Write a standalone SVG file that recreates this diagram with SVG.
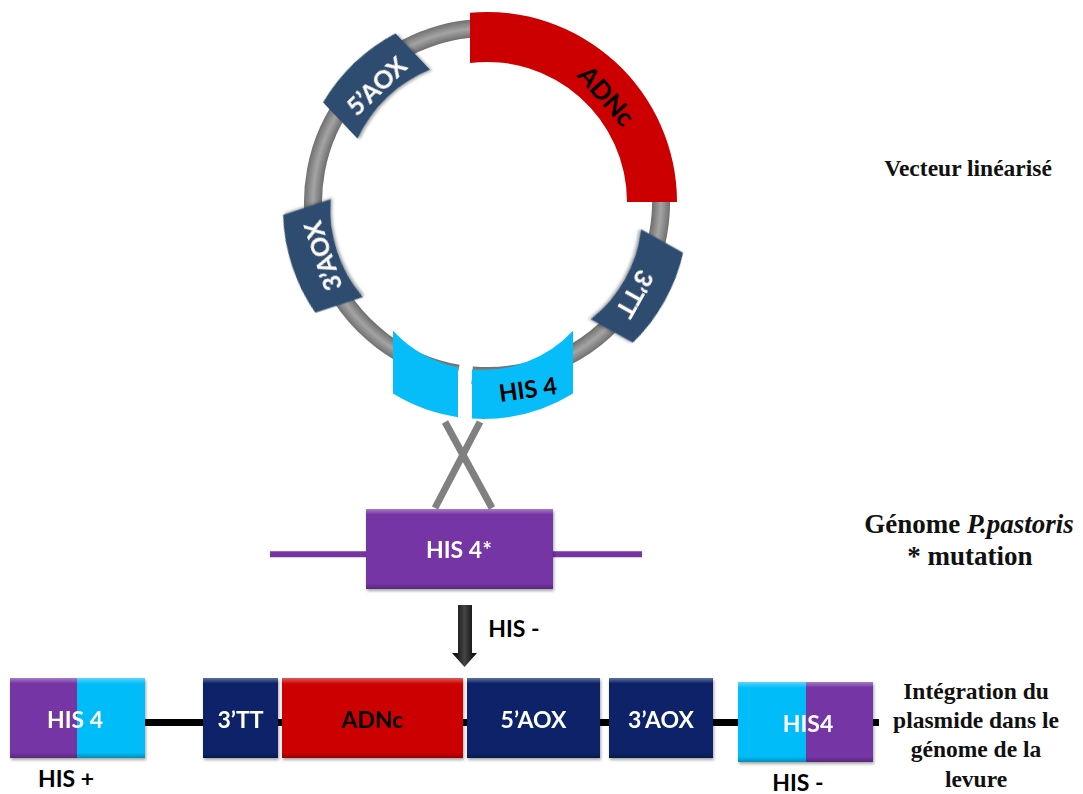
<svg xmlns="http://www.w3.org/2000/svg" width="1083" height="794" viewBox="0 0 1083 794">
<style>
.lbl{font-family:Lato,"Liberation Sans",Arial,sans-serif;font-weight:bold;text-anchor:middle}
.w{fill:#ffffff}
.k{fill:#000000}
.ser{font-family:"Liberation Serif","Times New Roman",serif;font-weight:bold;text-anchor:middle;fill:#111}
.blk{fill:#2E4B6F}
.nav{fill:#082367}
.red{fill:#CC0000}
.cy{fill:#06BDF9}
.pu{fill:#7535A5}
</style>
<defs>
<radialGradient id="tube" gradientUnits="userSpaceOnUse" cx="487" cy="202" r="184">
<stop offset="0.89" stop-color="#666"/>
<stop offset="0.945" stop-color="#a4a4a4"/>
<stop offset="1" stop-color="#6a6a6a"/>
</radialGradient>
<linearGradient id="bevel" x1="0" y1="0" x2="0" y2="1">
<stop offset="0" stop-color="#fff" stop-opacity="0.35"/>
<stop offset="0.07" stop-color="#fff" stop-opacity="0"/>
<stop offset="0.93" stop-color="#000" stop-opacity="0"/>
<stop offset="1" stop-color="#000" stop-opacity="0.25"/>
</linearGradient>
<linearGradient id="arrowg" x1="0" y1="0" x2="1" y2="0">
<stop offset="0" stop-color="#000"/>
<stop offset="0.5" stop-color="#444"/>
<stop offset="1" stop-color="#000"/>
</linearGradient>
<filter id="sh" x="-10%" y="-10%" width="125%" height="130%">
<feDropShadow dx="1" dy="2" stdDeviation="1.5" flood-color="#000" flood-opacity="0.35"/>
</filter>
</defs>

<g id="connectors">
<path d="M458 373.6 A174 174 0 1 1 472.1 375.4" fill="none" stroke="url(#tube)" stroke-width="18"/>
<line x1="445" y1="422" x2="492" y2="508" stroke="#808080" stroke-width="7"/>
<line x1="480" y1="422" x2="435" y2="508" stroke="#808080" stroke-width="7"/>
<line x1="270" y1="554.3" x2="642" y2="554.3" stroke="#7535A5" stroke-width="6"/>
<line x1="145" y1="722.5" x2="879" y2="722.5" stroke="#000" stroke-width="7"/>
<path d="M458 605 L472 605 L472 653 L477 653 L464.5 667 L452 653 L458 653 Z" fill="url(#arrowg)"/>
</g>

<g id="adnc-circle">
<path class="red" d="M470 12.8 A190 190 0 0 1 677 202 L627 202 A140 140 0 0 0 470 63 Z"/>
<text class="lbl k" font-size="26" transform="translate(606,96) rotate(48.3)" y="9">ADNc</text>
</g>

<g id="aox5-circle" transform="translate(376.5,86) rotate(-43.6)" filter="url(#sh)">
<path class="blk" d="M-50 -25 A185 185 0 0 1 50 -25 L50 25 A135 135 0 0 0 -50 25 Z"/>
<text class="lbl w" font-size="25" y="9">5’AOX</text>
</g>

<g id="aox3-circle" transform="translate(323,256) rotate(-108.2)" filter="url(#sh)">
<path class="blk" d="M-51.5 -25 A185 185 0 0 1 51.5 -25 L51.5 25 A135 135 0 0 0 -51.5 25 Z"/>
<text class="lbl w" font-size="25" y="9">3’AOX</text>
</g>

<g id="tt3-circle" transform="translate(637,286) rotate(119.2)" filter="url(#sh)">
<path class="blk" d="M-51.5 -24 A185 185 0 0 1 51.5 -24 L51.5 24 A135 135 0 0 0 -51.5 24 Z"/>
<text class="lbl w" font-size="25" x="8" y="7">3’TT</text>
</g>

<g id="his4-circle">
<path class="cy" d="M393 330.8 A123 123 0 0 0 458 367.4 L458 417.2 A172 172 0 0 1 393 393.6 Z"/>
<path class="cy" d="M472 369.5 A123 123 0 0 0 573 330.8 L573 393.6 A172 172 0 0 1 472 418.6 Z"/>
<text class="lbl k" font-size="24" transform="translate(528,390) rotate(-8)" y="8">HIS 4</text>
</g>

<g id="his4-mut" filter="url(#sh)">
<rect class="pu" x="366" y="509" width="187" height="80"/>
<rect x="366" y="509" width="187" height="80" fill="url(#bevel)"/>
<text class="lbl w" font-size="23" x="459" y="558">HIS 4*</text>
</g>

<g id="his-minus-arrow-label">
<text class="lbl k" font-size="23" x="514" y="637">HIS -</text>
</g>

<g id="his4-left" filter="url(#sh)">
<rect class="pu" x="10" y="678" width="67" height="80"/>
<rect class="cy" x="77" y="678" width="68" height="80"/>
<rect x="10" y="678" width="135" height="80" fill="url(#bevel)"/>
<text class="lbl w" font-size="23" x="75" y="728">HIS 4</text>
</g>
<text id="his-plus" class="lbl k" font-size="23" x="66" y="787">HIS +</text>

<g id="tt3" filter="url(#sh)">
<rect class="nav" x="203" y="678" width="75" height="80"/>
<rect x="203" y="678" width="75" height="80" fill="url(#bevel)"/>
<text class="lbl w" font-size="23" x="240.5" y="728">3’TT</text>
</g>

<g id="adnc" filter="url(#sh)">
<rect x="282" y="678" width="181" height="80" fill="#CC0505"/>
<rect x="282" y="678" width="181" height="80" fill="url(#bevel)"/>
<text class="lbl k" font-size="23" x="372.5" y="728">ADNc</text>
</g>

<g id="aox5" filter="url(#sh)">
<rect class="nav" x="467" y="678" width="133" height="80"/>
<rect x="467" y="678" width="133" height="80" fill="url(#bevel)"/>
<text class="lbl w" font-size="23" x="533.5" y="728">5’AOX</text>
</g>

<g id="aox3" filter="url(#sh)">
<rect class="nav" x="609" y="678" width="104" height="80"/>
<rect x="609" y="678" width="104" height="80" fill="url(#bevel)"/>
<text class="lbl w" font-size="23" x="661" y="728">3’AOX</text>
</g>

<g id="his4-right" filter="url(#sh)">
<rect class="cy" x="738" y="682" width="68" height="80"/>
<rect class="pu" x="806" y="682" width="67" height="80"/>
<rect x="738" y="682" width="135" height="80" fill="url(#bevel)"/>
<text class="lbl w" font-size="23" x="808" y="732">HIS4</text>
</g>
<text id="his-minus" class="lbl k" font-size="23" x="798" y="791">HIS -</text>

<g id="labels">
<text class="ser" font-size="23.5" x="968" y="176">Vecteur linéarisé</text>
<text class="ser" font-size="27" x="969" y="533">Génome <tspan font-style="italic">P.pastoris</tspan></text>
<text class="ser" font-size="27" x="970" y="565">* mutation</text>
<text class="ser" font-size="23.5" x="976" y="699">Intégration du</text>
<text class="ser" font-size="23.5" x="976" y="728">plasmide dans le</text>
<text class="ser" font-size="23.5" x="976" y="757">génome de la</text>
<text class="ser" font-size="23.5" x="976" y="787">levure</text>
</g>
</svg>
